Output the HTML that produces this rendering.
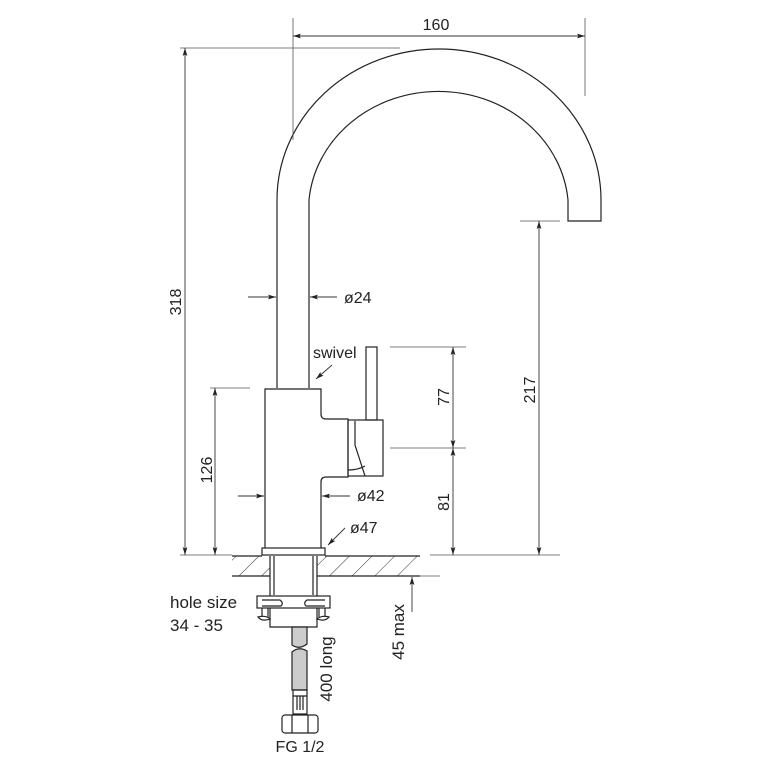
<!DOCTYPE html>
<html><head><style>
html,body{margin:0;padding:0;background:#fff;}
svg{display:block;}
text{font-family:"Liberation Sans",sans-serif;fill:#222;font-size:16px;}
</style></head><body>
<svg width="768" height="768" viewBox="0 0 768 768" xmlns="http://www.w3.org/2000/svg">
<defs>
<marker id="a" viewBox="0 0 10 6" refX="10" refY="3" markerWidth="8" markerHeight="5" orient="auto-start-reverse" markerUnits="userSpaceOnUse"><path d="M0,0 L10,3 L0,6 L2,3 z" fill="#222"/></marker>
<pattern id="h" width="16" height="16" patternUnits="userSpaceOnUse" patternTransform="rotate(45)"><line x1="0" y1="0" x2="0" y2="16" stroke="#333" stroke-width="1"/></pattern>
</defs>
<g fill="none" stroke="#222" stroke-width="1.2">
<path d="M277,388 L277,200 A162,151 0 0 1 601,200 L601,221 L568,221 L568,200 A130,119 0 0 0 309,200 L309,388"/>
<path d="M265,548 L265,389 L321,389 L321,414 Q321,419 326,419 L348,419 L348,477 L326,477 Q321,477 321,482 L321,548"/>
<rect x="348" y="420" width="35" height="56"/>
<path d="M355,421 L355,445 L365,476 M348,470 Q358,470 365,466"/>
<rect x="366" y="347" width="11" height="73"/>
<rect x="262" y="548" width="63" height="7"/>
<rect x="232" y="556" width="38" height="20" fill="url(#h)" stroke="none"/>
<rect x="317" y="556" width="103" height="20" fill="url(#h)" stroke="none"/>
<path d="M232,556 L262,556 M325,556 L420,556 M232,576 L270,576 M317,576 L420,576"/>
<path d="M270,556 L270,627 L317,627 L317,556 M274,556 L274,595 M313,556 L313,595"/>
<rect x="257" y="596" width="73" height="12" fill="#fff"/>
<path d="M262,600 L280,600 Q284,603 281,606 L262,606 M325,600 L307,600 Q303,603 306,606 L325,606"/>
<path d="M262,608 L262,617 M268,608 L268,617 M319,608 L319,617 M325,608 L325,617"/>
<path d="M258,617 Q262,622 270,619 Q266,615 258,617 z M317,619 Q325,622 329,617 Q322,615 317,619 z"/>
<path d="M292,627 L292,645 Q299,650 307,644 L307,627 Z" fill="#ccc"/>
<path d="M292,652 Q299,646 307,651 L307,690 L292,690 Z" fill="#ccc"/>
<rect x="293" y="690" width="14" height="24"/>
<path d="M297,696 L297,710 M300,696 L300,710 M303,696 L303,710 M293,696 L307,696"/>
<rect x="282" y="715" width="36" height="18" rx="3"/>
<path d="M292,715 L292,733 M308,715 L308,733"/>
</g>
<g fill="none" stroke="#555" stroke-width="0.8">
<line x1="293" y1="18" x2="293" y2="140"/><line x1="585" y1="18" x2="585" y2="96"/>
<line x1="180" y1="48" x2="400" y2="48"/>
<line x1="210" y1="388" x2="250" y2="388"/>
<line x1="520" y1="221" x2="560" y2="221"/>
<line x1="390" y1="347" x2="466" y2="347"/>
<line x1="390" y1="448" x2="466" y2="448"/>
<line x1="180" y1="555" x2="232" y2="555"/>
<line x1="430" y1="555" x2="560" y2="555"/>
<line x1="420" y1="576" x2="440" y2="576"/>
</g>
<g fill="none" stroke="#333" stroke-width="0.9">
<line x1="293" y1="36" x2="585" y2="36" marker-start="url(#a)" marker-end="url(#a)"/>
<line x1="185" y1="48" x2="185" y2="555" marker-start="url(#a)" marker-end="url(#a)"/>
<line x1="215" y1="388" x2="215" y2="555" marker-start="url(#a)" marker-end="url(#a)"/>
<line x1="539" y1="221" x2="539" y2="555" marker-start="url(#a)" marker-end="url(#a)"/>
<line x1="453" y1="347" x2="453" y2="448" marker-start="url(#a)" marker-end="url(#a)"/>
<line x1="453" y1="448" x2="453" y2="555" marker-start="url(#a)" marker-end="url(#a)"/>
<line x1="248" y1="297" x2="276" y2="297" marker-end="url(#a)"/>
<line x1="337" y1="297" x2="310" y2="297" marker-end="url(#a)"/>
<line x1="238" y1="496" x2="264" y2="496" marker-end="url(#a)"/>
<line x1="350" y1="496" x2="322" y2="496" marker-end="url(#a)"/>
<line x1="345" y1="528" x2="328" y2="545" marker-end="url(#a)"/>
<line x1="332" y1="365" x2="316" y2="379" marker-end="url(#a)"/>
<line x1="412" y1="612" x2="412" y2="577" marker-end="url(#a)"/>
</g>
<text x="436" y="30" text-anchor="middle">160</text>
<text transform="translate(181,302) rotate(-90)" text-anchor="middle">318</text>
<text transform="translate(212,470) rotate(-90)" text-anchor="middle">126</text>
<text transform="translate(535,390) rotate(-90)" text-anchor="middle">217</text>
<text transform="translate(449,397) rotate(-90)" text-anchor="middle">77</text>
<text transform="translate(449,502) rotate(-90)" text-anchor="middle">81</text>
<text x="344" y="303">ø24</text>
<text x="313" y="358">swivel</text>
<text x="357" y="501">ø42</text>
<text x="350" y="533">ø47</text>
<text x="170" y="608" style="font-size:17px">hole size</text>
<text x="170" y="631" style="font-size:17px">34 - 35</text>
<text transform="translate(404,632) rotate(-90)" text-anchor="middle" style="font-size:17px">45 max</text>
<text transform="translate(332,669) rotate(-90)" text-anchor="middle" style="font-size:17px">400 long</text>
<text x="300" y="752" text-anchor="middle">FG 1/2</text>
</svg>
</body></html>
